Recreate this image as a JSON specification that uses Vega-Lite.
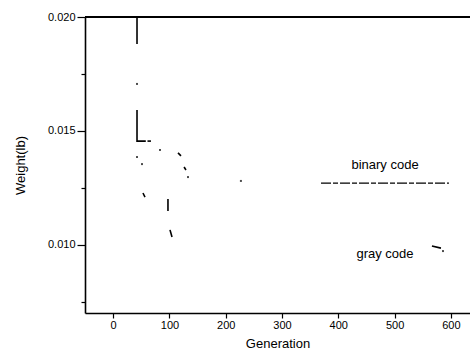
{
  "$schema": "https://vega.github.io/schema/vega-lite/v6.json",
  "width": 385,
  "height": 296,
  "autosize": "none",
  "padding": {"left": 85, "top": 17, "right": 0, "bottom": 45},
  "background": "white",
  "config": {
    "view": {"stroke": null},
    "font": "Liberation Sans",
    "axis": {
      "domainColor": "black",
      "domainWidth": 1.6,
      "tickColor": "black",
      "tickWidth": 1.2,
      "labelColor": "black",
      "titleColor": "black",
      "labelFont": "Liberation Sans",
      "titleFont": "Liberation Sans",
      "labelFontSize": 11,
      "titleFontSize": 13,
      "titleFontWeight": "normal",
      "grid": false,
      "labelOverlap": false
    }
  },
  "datasets": {
    "fragments": [
      {"series": "binary code", "seg": "b1", "generation": 42.4, "weight": 0.0200},
      {"series": "binary code", "seg": "b1", "generation": 42.4, "weight": 0.01881},
      {"series": "binary code", "seg": "b2", "generation": 42.4, "weight": 0.01592},
      {"series": "binary code", "seg": "b2", "generation": 42.4, "weight": 0.01455},
      {"series": "binary code", "seg": "b2", "generation": 58, "weight": 0.01455},
      {"series": "binary code", "seg": "b2b", "generation": 61, "weight": 0.01455},
      {"series": "binary code", "seg": "b2b", "generation": 67.2, "weight": 0.01455},
      {"series": "binary code", "seg": "b3", "generation": 115.2, "weight": 0.01403},
      {"series": "binary code", "seg": "b3", "generation": 120.5, "weight": 0.0139},
      {"series": "binary code", "seg": "b4", "generation": 126, "weight": 0.01341},
      {"series": "binary code", "seg": "b4", "generation": 129.4, "weight": 0.01328},
      {"series": "gray code", "seg": "g1", "generation": 53, "weight": 0.01227},
      {"series": "gray code", "seg": "g1", "generation": 56.6, "weight": 0.01209},
      {"series": "gray code", "seg": "g2", "generation": 97.4, "weight": 0.01201},
      {"series": "gray code", "seg": "g2", "generation": 97.4, "weight": 0.01148},
      {"series": "gray code", "seg": "g3", "generation": 101, "weight": 0.01065},
      {"series": "gray code", "seg": "g3", "generation": 104.6, "weight": 0.01034},
      {"series": "gray code", "seg": "g4", "generation": 566.4, "weight": 0.00994},
      {"series": "gray code", "seg": "g4", "generation": 582.4, "weight": 0.00985},
      {"series": "binary code", "seg": "bplateau", "generation": 369.3, "weight": 0.0127},
      {"series": "binary code", "seg": "bplateau", "generation": 596.6, "weight": 0.0127}
    ],
    "dots": [
      {"series": "binary code", "generation": 42.4, "weight": 0.01706},
      {"series": "binary code", "generation": 83.2, "weight": 0.01416},
      {"series": "binary code", "generation": 133, "weight": 0.01297},
      {"series": "binary code", "generation": 227, "weight": 0.0128},
      {"series": "gray code", "generation": 42.4, "weight": 0.01385},
      {"series": "gray code", "generation": 51.3, "weight": 0.01354},
      {"series": "gray code", "generation": 586, "weight": 0.00972}
    ],
    "labels": [
      {"label": "binary code", "generation": 483, "weight": 0.01332},
      {"label": "gray code", "generation": 483, "weight": 0.00942}
    ]
  },
  "layer": [
    {
      "data": {"name": "fragments"},
      "transform": [{"filter": "datum.seg !== 'bplateau'"}],
      "mark": {"type": "line", "color": "black", "strokeWidth": 1.6},
      "encoding": {
        "x": {
          "field": "generation",
          "type": "quantitative",
          "scale": {"domain": [-50, 634], "nice": false, "zero": false},
          "axis": {
            "title": "Generation",
            "values": [0, 50, 100, 150, 200, 250, 300, 350, 400, 450, 500, 550, 600],
            "format": "d",
            "labelExpr": "datum.value % 100 === 0 ? datum.label : ''",
            "tickSize": {"condition": {"test": "datum.value % 100 === 0", "value": 5}, "value": 4},
            "labelPadding": 1,
            "titlePadding": 7
          }
        },
        "y": {
          "field": "weight",
          "type": "quantitative",
          "scale": {"domain": [0.007, 0.02], "nice": false, "zero": false},
          "axis": {
            "title": "Weight(lb)",
            "values": [0.0075, 0.01, 0.0125, 0.015, 0.0175, 0.02],
            "format": ".3f",
            "labelExpr": "abs(datum.value * 200 - round(datum.value * 200)) < 0.000001 ? datum.label : ''",
            "tickSize": {"condition": {"test": "abs(datum.value * 200 - round(datum.value * 200)) < 0.000001", "value": 8}, "value": 4},
            "labelPadding": 2,
            "titlePadding": 20
          }
        },
        "detail": {"field": "seg"}
      }
    },
    {
      "data": {"name": "fragments"},
      "transform": [{"filter": "datum.seg === 'bplateau'"}],
      "mark": {"type": "line", "color": "black", "strokeWidth": 1.2, "strokeDash": [10, 2, 5, 2]},
      "encoding": {
        "x": {"field": "generation", "type": "quantitative"},
        "y": {"field": "weight", "type": "quantitative"}
      }
    },
    {
      "data": {"name": "dots"},
      "mark": {"type": "square", "color": "black", "filled": true, "size": 4},
      "encoding": {
        "x": {"field": "generation", "type": "quantitative"},
        "y": {"field": "weight", "type": "quantitative"}
      }
    },
    {
      "data": {"name": "labels"},
      "mark": {"type": "text", "color": "black", "fontSize": 13, "font": "Liberation Sans", "align": "center", "baseline": "alphabetic"},
      "encoding": {
        "x": {"field": "generation", "type": "quantitative"},
        "y": {"field": "weight", "type": "quantitative"},
        "text": {"field": "label"}
      }
    },
    {
      "data": {"values": [{}]},
      "mark": {"type": "rule", "color": "black", "strokeWidth": 2},
      "encoding": {"y": {"datum": 0.02}}
    }
  ]
}
